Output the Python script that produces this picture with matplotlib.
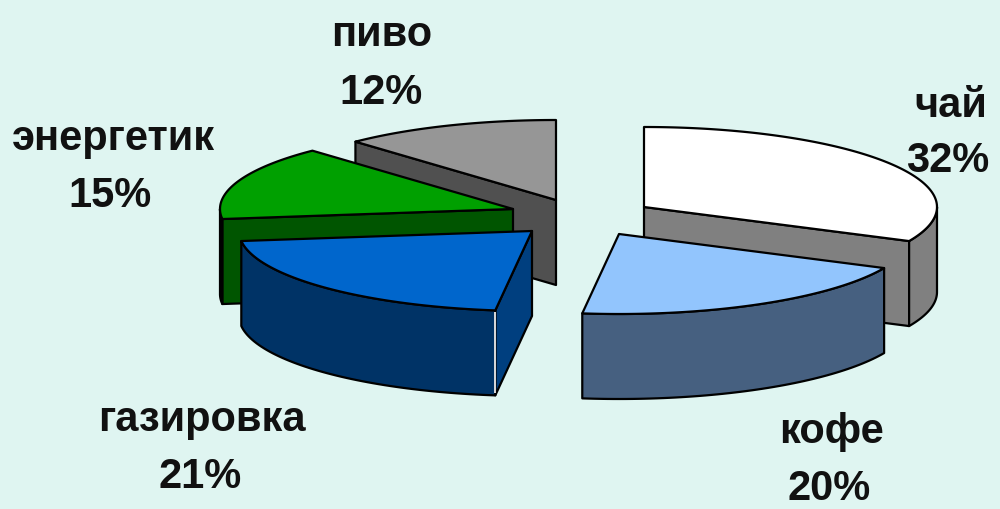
import numpy as np
import matplotlib
matplotlib.use("Agg")
import matplotlib.pyplot as plt
from matplotlib.patches import Polygon

# Data
categories = ["чай", "кофе", "газировка", "энергетик", "пиво"]
shares = [32, 20, 21, 15, 12]

top_colors = ["#FFFFFF", "#92C5FD", "#0066CC", "#00A000", "#969696"]
outer_colors = ["#808080", "#466080", "#003366", "#000000", "#505050"]
cut_colors = ["#808080", "#466080", "#003F7F", "#005500", "#505050"]

# ----------------------------------------
# Layout (pixels of the 1000x509 picture)
# ----------------------------------------
RX, RY, DEPTH = 293, 80, 85
apex = [(644, 207), (619, 234), (532, 231), (513, 209), (556, 200)]
label_pos = [(951, 117), (831, 443), (202, 431), (113, 150), (382, 46)]
pct_pos = [(948, 172), (829, 500), (200, 488), (110, 207), (381, 104)]
draw_order = [4, 3, 0, 1, 2]
FONT = "Liberation Sans"

edges = np.cumsum([0] + shares) / sum(shares) * 2 * np.pi


def rim(i, a):
    # point on the rim, angle a goes clockwise from 12 o'clock
    return apex[i][0] + RX * np.sin(a), apex[i][1] - RY * np.cos(a)


def add_face(ax, pts, color):
    ax.add_patch(Polygon(pts, closed=True, facecolor=color, edgecolor="black",
                         linewidth=1.6, joinstyle="round"))


def add_cut(ax, i, a):
    x, y = rim(i, a)
    ax0, ay0 = apex[i]
    add_face(ax, [(ax0, ay0), (x, y), (x, y + DEPTH), (ax0, ay0 + DEPTH)], cut_colors[i])


fig = plt.figure(figsize=(10, 5.09), dpi=100, facecolor="#DFF5F1")
ax = fig.add_axes([0, 0, 1, 1])
ax.set_xlim(0, 1000)
ax.set_ylim(509, 0)
ax.axis("off")

for i in draw_order:
    a0, a1 = edges[i], edges[i + 1]

    # only the cut faces turned to the viewer
    if np.sin(a0) < -1e-6:
        add_cut(ax, i, a0)
    if np.sin(a1) > 1e-6:
        add_cut(ax, i, a1)

    # outer wall: the front half of the rim
    lo, hi = max(a0, np.pi / 2), min(a1, 3 * np.pi / 2)
    if lo < hi:
        t = np.linspace(lo, hi, 60)
        x, y = rim(i, t)
        wall = list(zip(x, y)) + list(zip(x[::-1], y[::-1] + DEPTH))
        add_face(ax, wall, outer_colors[i])

    # top face
    t = np.linspace(a0, a1, 120)
    x, y = rim(i, t)
    add_face(ax, [apex[i]] + list(zip(x, y)), top_colors[i])

# thin white highlight on the front corner of the blue slice
cx, cy = rim(2, edges[2])
ax.plot([cx, cx], [cy + 2, cy + DEPTH - 2], color="white", linewidth=1.2, solid_capstyle="butt")

for i, name in enumerate(categories):
    ax.text(*label_pos[i], name, ha="center", va="baseline", fontsize=30,
            fontweight="bold", family=FONT, color="#111111")
    ax.text(*pct_pos[i], f"{shares[i]}%", ha="center", va="baseline", fontsize=30,
            fontweight="bold", family=FONT, color="#111111")

fig.savefig("out.png", dpi=100, facecolor=fig.get_facecolor())
